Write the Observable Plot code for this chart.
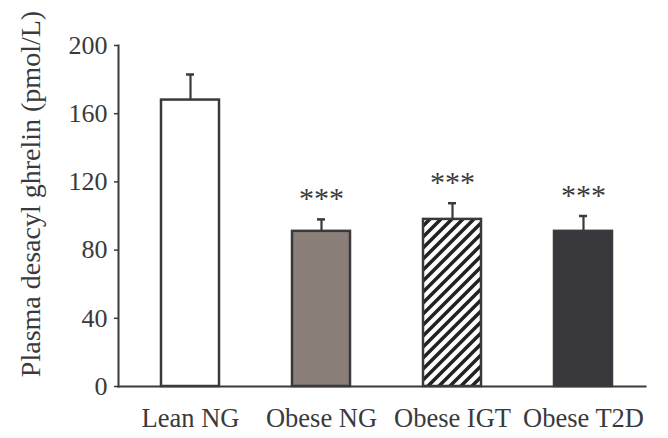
<!DOCTYPE html>
<html><head><meta charset="utf-8">
<script src="https://cdn.jsdelivr.net/npm/d3@7"></script>
<script src="https://cdn.jsdelivr.net/npm/@observablehq/plot@0.6"></script>
<style>html,body{margin:0;padding:0;background:#fff} svg{display:block}</style>
</head><body><div id="chart"></div>
<script>
const groups = ["Lean NG", "Obese NG", "Obese IGT", "Obese T2D"];
const means = [168, 91, 98, 91];
const sems = [15, 7, 9.5, 9];
const stars = ["", "***", "***", "***"];
const yTicks = [0, 40, 80, 120, 160, 200];
const yLabel = "Plasma desacyl ghrelin (pmol/L)";

const data = groups.map((g, i) => ({group: g, mean: means[i], top: means[i] + sems[i], star: stars[i]}));
const ink = "#3a3a3c";
const font = "'Liberation Serif', 'Times New Roman', serif";

const chart = Plot.plot({
  width: 668, height: 438,
  marginLeft: 118, marginRight: 23, marginTop: 45, marginBottom: 52,
  style: {fontFamily: font, color: ink, background: "#fff", overflow: "visible"},
  x: {domain: groups, paddingInner: 0.56, paddingOuter: 0.288, align: 0.557, label: null},
  y: {domain: [0, 200], label: null},
  color: {domain: groups, range: ["#ffffff", "#8b7f7a", "url(#hatch)", "#38373b"]},
  marks: [
    Plot.barY(data, {x: "group", y: "mean", fill: "group", stroke: ink, strokeWidth: 2.5}),
    Plot.ruleX(data, {x: "group", y1: "mean", y2: "top", stroke: ink, strokeWidth: 2.2}),
    Plot.tickY(data, {x: "group", y: "top", stroke: ink, strokeWidth: 2.5, insetLeft: 25, insetRight: 25}),
    Plot.text(data, {x: "group", y: "top", text: "star", fontSize: 30, dy: -21, lineAnchor: "middle", fill: ink}),
    Plot.axisY({ticks: yTicks, tickSize: 4, tickPadding: 7, fontSize: 26, label: null, stroke: ink, strokeWidth: 1.5}),
    Plot.axisX({tickSize: 0, tickPadding: 22, fontSize: 26.5, label: null}),
    Plot.frame({anchor: "left", stroke: ink, strokeWidth: 2}),
    Plot.frame({anchor: "bottom", stroke: ink, strokeWidth: 2}),
    Plot.text([yLabel], {frameAnchor: "left", textAnchor: "middle", lineAnchor: "middle", rotate: -90, dx: -87, dy: -22, fontSize: 28, fill: ink})
  ]
});

const defs = d3.select(chart).insert("defs", ":first-child");
const p = defs.append("pattern").attr("id", "hatch").attr("patternUnits", "userSpaceOnUse")
  .attr("width", 11).attr("height", 11);
p.append("rect").attr("width", 11).attr("height", 11).attr("fill", "#fff");
p.append("path").attr("d", "M-2,2 l4,-4 M0,11 l11,-11 M9,13 l4,-4")
  .attr("stroke", "#222").attr("stroke-width", 3.5);

document.getElementById("chart").appendChild(chart);
</script>
</body></html>
